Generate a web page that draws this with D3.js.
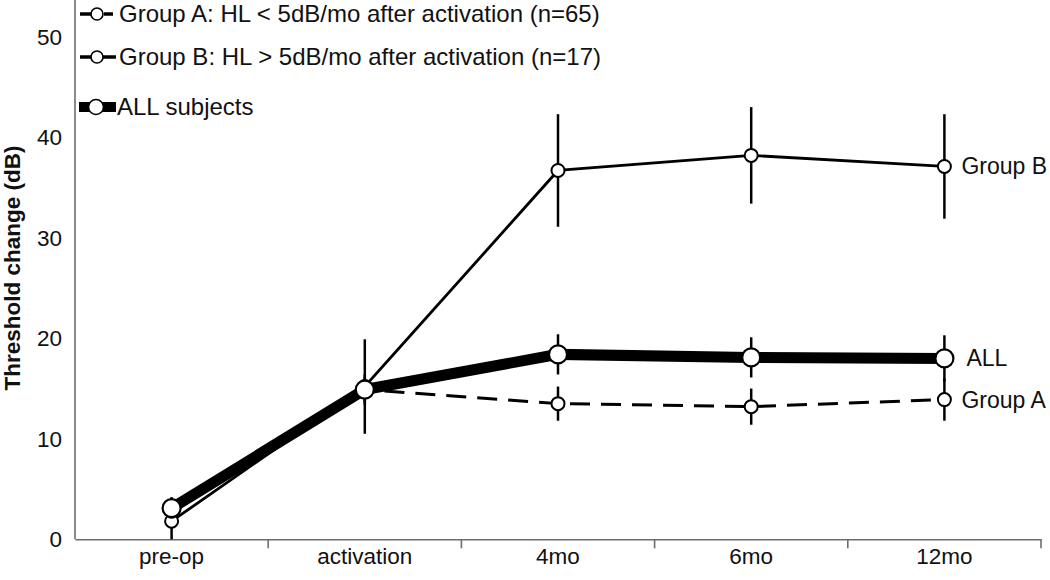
<!DOCTYPE html>
<html>
<head>
<meta charset="utf-8">
<script src="https://cdn.jsdelivr.net/npm/d3@7"></script>
<style>
  html, body { margin: 0; padding: 0; background: #fff; }
  svg { display: block; font-family: "Liberation Sans", Arial, sans-serif; }
</style>
</head>
<body>
<svg id="chart" width="1050" height="580"></svg>
<script>
// ---- data ----
const categories = ["pre-op", "activation", "4mo", "6mo", "12mo"];
const groupA = [2.8, 14.9, 13.5, 13.2, 13.9];
const groupAErr = [1.0, 1.5, 1.7, 1.8, 2.1];
const groupB = [1.8, 15.2, 36.7, 38.2, 37.1];
const groupBErr = [2.4, 4.7, 5.6, 4.8, 5.2];
const allSubjects = [3.1, 14.9, 18.4, 18.1, 18.0];
const allErr = [0.9, 1.2, 2.0, 2.0, 2.3];
const yTicks = [0, 10, 20, 30, 40, 50];
const legendLabels = [
  "Group A: HL < 5dB/mo after activation (n=65)",
  "Group B: HL > 5dB/mo after activation (n=17)",
  "ALL subjects"
];
const endLabels = ["Group A", "Group B", "ALL"];
const yTitle = "Threshold change (dB)";

// ---- layout ----
const svg = d3.select("#chart");
const x = d3.scaleBand().domain(categories).range([75, 1041]).padding(0);
const y = d3.scaleLinear().domain([0, 50]).range([539.3, 36.8]);
const cx = c => x(c) + x.bandwidth() / 2;
const axisColor = "#6e6e6e";
const FONT = "Liberation Sans, Arial, sans-serif";

// y axis line (no tick marks)
svg.append("line")
  .attr("x1", 75).attr("x2", 75)
  .attr("y1", 0).attr("y2", y(0))
  .attr("stroke", axisColor).attr("stroke-width", 1.6);

const yAxis = svg.append("g").attr("transform", "translate(75,0)")
  .call(d3.axisLeft(y).tickValues(yTicks).tickSize(0).tickPadding(13).tickFormat(d3.format("d")));
yAxis.select(".domain").remove();
yAxis.selectAll("text").attr("font-size", 22.5).attr("fill", "#111").attr("font-family", FONT);

// x axis
const xAxis = svg.append("g").attr("transform", `translate(0,${y(0)})`)
  .call(d3.axisBottom(x).tickSize(0).tickPadding(9));
xAxis.select(".domain").attr("stroke", axisColor).attr("stroke-width", 1.6);
xAxis.selectAll("text").attr("font-size", 22.5).attr("fill", "#111").attr("font-family", FONT);
// boundary ticks between categories
const bounds = categories.map(c => x(c) + x.bandwidth());
svg.append("g").selectAll("line").data(bounds).join("line")
  .attr("x1", d => d).attr("x2", d => d)
  .attr("y1", y(0)).attr("y2", y(0) + 9)
  .attr("stroke", axisColor).attr("stroke-width", 1.6);

// y title
svg.append("text")
  .attr("transform", "translate(20,268) rotate(-90)")
  .attr("text-anchor", "middle")
  .attr("font-size", 22.5).attr("font-weight", "bold").attr("fill", "#111")
  .text(yTitle);

// ---- series ----
const line = d3.line().x((d, i) => cx(categories[i])).y(d => y(d));

// Group A (dashed)
svg.append("path").datum(groupA)
  .attr("d", line).attr("fill", "none")
  .attr("stroke", "#000").attr("stroke-width", 3)
  .attr("stroke-dasharray", "20,11");
// Group B (solid thin)
svg.append("path").datum(groupB)
  .attr("d", line).attr("fill", "none")
  .attr("stroke", "#000").attr("stroke-width", 2.8);
// ALL (thick)
svg.append("path").datum(allSubjects)
  .attr("d", line).attr("fill", "none")
  .attr("stroke", "#000").attr("stroke-width", 11);

// error bars
function errBars(vals, errs) {
  svg.append("g").selectAll("line").data(vals).join("line")
    .attr("x1", (d, i) => cx(categories[i]))
    .attr("x2", (d, i) => cx(categories[i]))
    .attr("y1", (d, i) => y(d + errs[i]))
    .attr("y2", (d, i) => Math.min(y(0), y(d - errs[i])))
    .attr("stroke", "#000").attr("stroke-width", 2.5);
}
errBars(groupA, groupAErr);
errBars(groupB, groupBErr);
errBars(allSubjects, allErr);

// markers
function markers(vals, r, sw) {
  svg.append("g").selectAll("circle").data(vals).join("circle")
    .attr("cx", (d, i) => cx(categories[i]))
    .attr("cy", d => y(d))
    .attr("r", r)
    .attr("fill", "#fff").attr("stroke", "#000").attr("stroke-width", sw);
}
markers(groupB, 6.5, 2);
markers(groupA, 6.5, 2);
markers(allSubjects, 9, 2.2);

// end labels
const last = categories.length - 1;
const endVals = [groupA[last], groupB[last], allSubjects[last]];
const endOffsets = [17, 17, 22];
svg.append("g").selectAll("text").data(endLabels).join("text")
  .attr("x", (d, i) => cx(categories[last]) + endOffsets[i])
  .attr("y", (d, i) => y(endVals[i]))
  .attr("dy", "0.35em")
  .attr("font-size", 23).attr("fill", "#111")
  .text(d => d);

// ---- legend ----
const legRows = [14, 57, 107];
const lg = svg.append("g");
// row 1: Group A
lg.append("line").attr("x1", 80).attr("x2", 91).attr("y1", legRows[0]).attr("y2", legRows[0])
  .attr("stroke", "#000").attr("stroke-width", 3.5);
lg.append("line").attr("x1", 104).attr("x2", 113).attr("y1", legRows[0]).attr("y2", legRows[0])
  .attr("stroke", "#000").attr("stroke-width", 3.5);
lg.append("circle").attr("cx", 97).attr("cy", legRows[0]).attr("r", 6)
  .attr("fill", "#fff").attr("stroke", "#000").attr("stroke-width", 1.6);
// row 2: Group B
lg.append("line").attr("x1", 80).attr("x2", 116).attr("y1", legRows[1]).attr("y2", legRows[1])
  .attr("stroke", "#000").attr("stroke-width", 3.5);
lg.append("circle").attr("cx", 97).attr("cy", legRows[1]).attr("r", 6)
  .attr("fill", "#fff").attr("stroke", "#000").attr("stroke-width", 1.6);
// row 3: ALL
lg.append("line").attr("x1", 79).attr("x2", 116).attr("y1", legRows[2]).attr("y2", legRows[2])
  .attr("stroke", "#000").attr("stroke-width", 10);
lg.append("circle").attr("cx", 96).attr("cy", legRows[2]).attr("r", 7.5)
  .attr("fill", "#fff").attr("stroke", "#000").attr("stroke-width", 1.6);

const legX = [119, 119, 117];
lg.selectAll("text").data(legendLabels).join("text")
  .attr("x", (d, i) => legX[i])
  .attr("y", (d, i) => legRows[i])
  .attr("dy", "0.35em")
  .attr("font-size", 24)
  .attr("fill", "#111")
  .text(d => d);
</script>
</body>
</html>
